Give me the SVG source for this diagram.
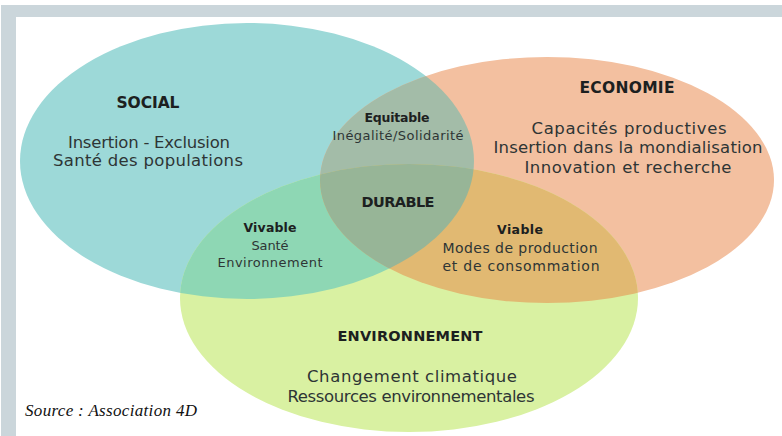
<svg xmlns="http://www.w3.org/2000/svg" width="782" height="436" viewBox="0 0 782 436">
  <style>
    .t { font-family: "DejaVu Sans", "Liberation Sans", sans-serif; text-anchor: middle; fill: #2e3535; }
    .b { font-weight: bold; fill: #1c2020; }
    .src { font-family: "Liberation Serif", "Times New Roman", serif; font-style: italic; font-size: 17px; fill: #111; }
  </style>
  <defs>
    <clipPath id="cSocial"><ellipse cx="247" cy="161" rx="227" ry="138"/></clipPath>
    <clipPath id="cEco"><ellipse cx="547" cy="180" rx="227" ry="123"/></clipPath>
  </defs>
  <rect x="0" y="0" width="782" height="436" fill="#ffffff"/>
  <rect x="1" y="5" width="781" height="12" fill="#cbd6db"/>
  <rect x="1" y="5" width="15" height="431" fill="#cbd6db"/>

  <g id="social"><ellipse cx="247" cy="161" rx="227" ry="138" fill="#9dd9d8"/></g>
  <g id="economie"><ellipse cx="547" cy="180" rx="227" ry="123" fill="#f3c0a0"/></g>
  <g id="environnement"><ellipse cx="409" cy="298" rx="229" ry="134" fill="#d9f1a2"/></g>
  <g id="equitable"><ellipse cx="547" cy="180" rx="227" ry="123" fill="#a3bca8" clip-path="url(#cSocial)"/></g>
  <g id="vivable"><ellipse cx="409" cy="298" rx="229" ry="134" fill="#8ed7b4" clip-path="url(#cSocial)"/></g>
  <g id="viable"><ellipse cx="409" cy="298" rx="229" ry="134" fill="#e1b972" clip-path="url(#cEco)"/></g>
  <g id="durable"><g clip-path="url(#cSocial)"><ellipse cx="409" cy="298" rx="229" ry="134" fill="#97b597" clip-path="url(#cEco)"/></g></g>

  <g id="labels">
    <text class="t b" x="148" y="108" font-size="15.5" textLength="63">SOCIAL</text>
    <text class="t" x="149" y="148" font-size="16.5" textLength="162">Insertion - Exclusion</text>
    <text class="t" x="148" y="166" font-size="16.5" textLength="190">Santé des populations</text>

    <text class="t b" x="627" y="93" font-size="15.5" textLength="95">ECONOMIE</text>
    <text class="t" x="629" y="134" font-size="16.5" textLength="195">Capacités productives</text>
    <text class="t" x="628" y="153" font-size="16.5" textLength="269">Insertion dans la mondialisation</text>
    <text class="t" x="628" y="173" font-size="16.5" textLength="207">Innovation et recherche</text>

    <text class="t b" x="397" y="122" font-size="12.5" textLength="65">Equitable</text>
    <text class="t" x="398" y="140" font-size="13" textLength="131">Inégalité/Solidarité</text>

    <text class="t b" x="398" y="207" font-size="14.5" textLength="73">DURABLE</text>

    <text class="t b" x="270" y="232" font-size="12.5" textLength="53">Vivable</text>
    <text class="t" x="270" y="250" font-size="13" textLength="37">Santé</text>
    <text class="t" x="270" y="267" font-size="13" textLength="105">Environnement</text>

    <text class="t b" x="520" y="234" font-size="12.5" textLength="46">Viable</text>
    <text class="t" x="520" y="253" font-size="14" textLength="155">Modes de production</text>
    <text class="t" x="521" y="271" font-size="14" textLength="157">et de consommation</text>

    <text class="t b" x="410" y="341" font-size="14.5" textLength="145">ENVIRONNEMENT</text>
    <text class="t" x="412" y="382" font-size="16.5" textLength="210">Changement climatique</text>
    <text class="t" x="411" y="402" font-size="16.5" textLength="247">Ressources environnementales</text>

    <text class="src" x="25" y="416" textLength="172">Source : Association 4D</text>
  </g>
</svg>
